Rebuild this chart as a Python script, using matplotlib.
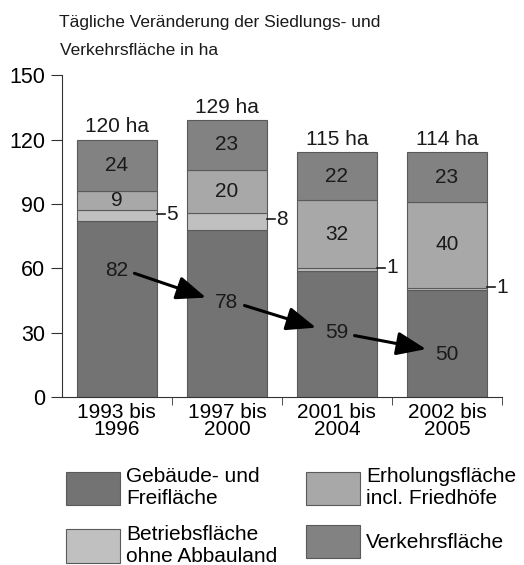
import numpy as np
import matplotlib
matplotlib.use("Agg")
from matplotlib import pyplot as plt

plt.rcParams['font.family'] = ['Liberation Sans', 'DejaVu Sans']

# data
periods = ['1993 bis\n1996', '1997 bis\n2000', '2001 bis\n2004', '2002 bis\n2005']
gebaeude = [82, 78, 59, 50]
betrieb = [5, 8, 1, 1]
erholung = [9, 20, 32, 40]
verkehr = [24, 23, 22, 23]
totals = ['120 ha', '129 ha', '115 ha', '114 ha']
# heights at which the Gebaeude labels sit (arrow chain)
label_y = [59, 44, 30, 20]

series = [
    ('Gebäude- und\nFreifläche', gebaeude, '#737373'),
    ('Betriebsfläche\nohne Abbauland', betrieb, '#c0c0c0'),
    ('Erholungsfläche\nincl. Friedhöfe', erholung, '#a8a8a8'),
    ('Verkehrsfläche', verkehr, '#828282'),
]

fig = plt.figure(figsize=(5.24, 5.65), dpi=100)
ax = fig.add_axes([0.118, 0.297, 0.84, 0.57])

x = np.arange(len(periods))
w = 0.73
bottom = np.zeros(len(periods))
bars = {}
for name, vals, col in series:
    bars[name] = ax.bar(x, vals, w, bottom=bottom, color=col,
                        edgecolor='#5a5a5a', linewidth=0.8, label=name)
    bottom += np.array(vals)

fs = 15
tc = '#1a1a1a'
base = np.array(gebaeude) + np.array(betrieb)
for i in range(len(periods)):
    ax.text(x[i], base[i] + erholung[i] / 2, str(erholung[i]),
            ha='center', va='center', fontsize=fs, color=tc)
    top = base[i] + erholung[i]
    ax.text(x[i], top + verkehr[i] / 2, str(verkehr[i]),
            ha='center', va='center', fontsize=fs, color=tc)
    ax.text(x[i], bottom[i] + 1.5, totals[i], ha='center', va='bottom',
            fontsize=fs, color=tc)
    # Betriebsflaeche label outside the bar
    yb = gebaeude[i] + betrieb[i] / 2 + 0.8
    ax.plot([x[i] + w / 2, x[i] + w / 2 + 0.07], [yb, yb], color=tc, lw=1.2,
            clip_on=False)
    ax.text(x[i] + w / 2 + 0.08, yb, str(betrieb[i]), ha='left', va='center',
            fontsize=fs, color=tc)
    # Gebaeude labels
    ax.text(x[i], label_y[i], str(gebaeude[i]), ha='center', va='center',
            fontsize=fs, color=tc)

# arrows between gebaeude labels
for i in range(len(periods) - 1):
    ax.annotate('', xy=(x[i + 1] - 0.19, label_y[i + 1] + 2.4),
                xytext=(x[i] + 0.16, label_y[i] - 1.3),
                arrowprops=dict(arrowstyle='-|>,head_length=1.0,head_width=0.4',
                                color='black', lw=2.2,
                                mutation_scale=18, shrinkA=0, shrinkB=0))

ax.set_xlim(-0.5, 3.5)
ax.set_ylim(0, 150)
ax.set_yticks([0, 30, 60, 90, 120, 150])
ax.set_xticks(x)
ax.set_xticklabels(periods, fontsize=15, linespacing=0.85)
ax.set_xticks(x + 0.5, minor=True)
ax.tick_params(axis='x', which='major', length=0, pad=4)
ax.tick_params(axis='x', which='minor', length=6, color='#333333')
ax.tick_params(axis='y', labelsize=15.5, length=8, color='#333333', pad=4)
for s in ['top', 'right']:
    ax.spines[s].set_visible(False)
for s in ['left', 'bottom']:
    ax.spines[s].set_color('#333333')

fig.text(0.113, 1 - 27 / 565, 'Tägliche Veränderung der Siedlungs- und',
         ha='left', va='baseline', fontsize=12.5, color=tc)
fig.text(0.115, 1 - 55 / 565, 'Verkehrsfläche in ha',
         ha='left', va='baseline', fontsize=12.5, color=tc)

handles = [bars[n][0] for n, _, _ in series]
labels = [n for n, _, _ in series]
fig.legend(handles, labels, ncol=2, loc='upper left',
           bbox_to_anchor=(66 / 524, 1 - 467 / 565),
           frameon=False, fontsize=15, handlelength=2.6, handleheight=2.1,
           columnspacing=1.35, labelspacing=0.8, handletextpad=0.3,
           borderpad=0, borderaxespad=0)

fig.savefig('out.png', dpi=100)
